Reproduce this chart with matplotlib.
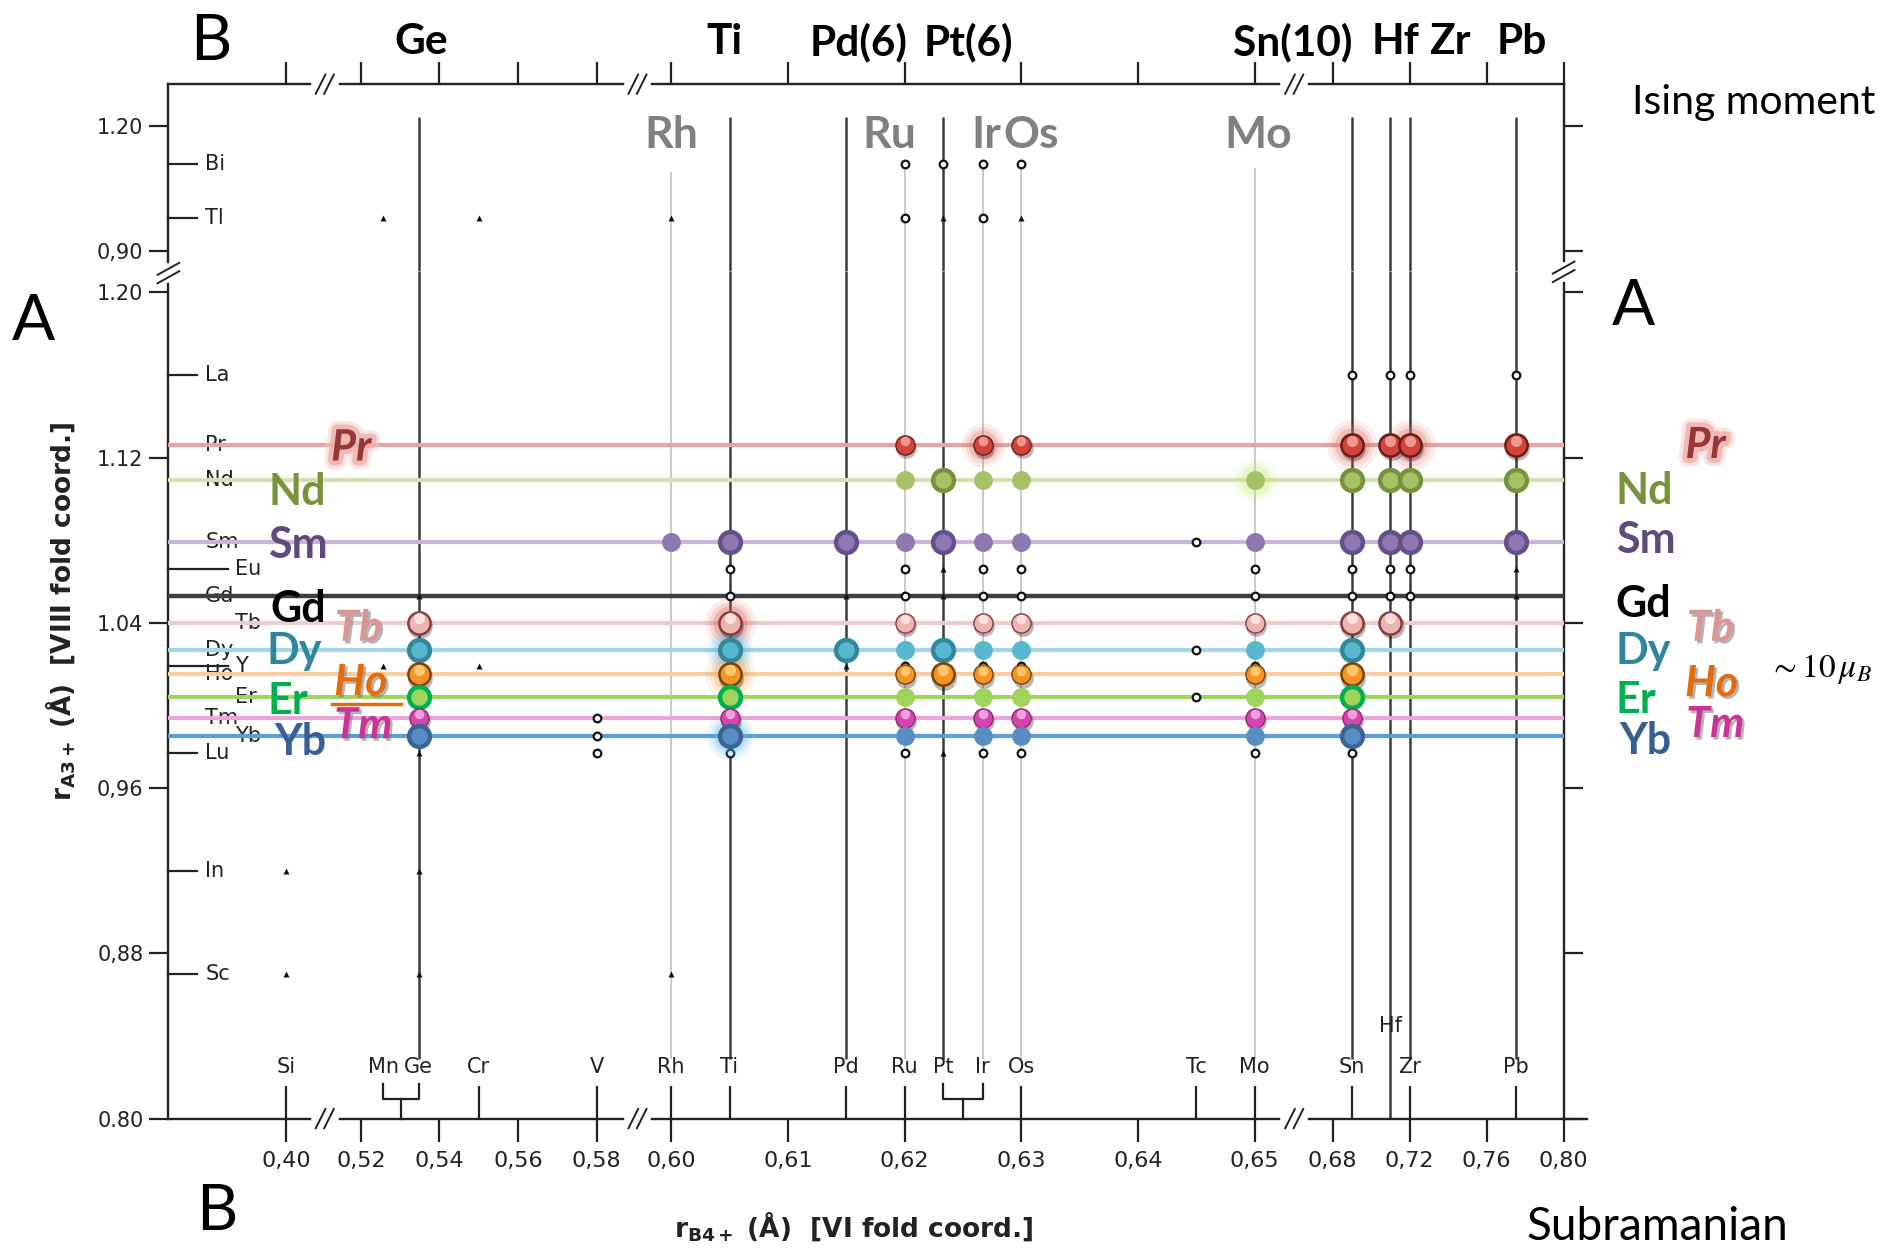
import numpy as np
import matplotlib
matplotlib.use("Agg")
import matplotlib.pyplot as plt
from matplotlib import transforms as mtransforms
from matplotlib import patheffects as pe
from matplotlib.lines import Line2D

plt.rcParams['font.family'] = ['DejaVu Sans']
plt.rcParams['mathtext.fontset'] = 'dejavusans'

# ---------------- data ----------------
A_LABELS = ["La", "Pr", "Nd", "Sm", "Eu", "Gd", "Tb", "Dy", "Y", "Ho", "Er", "Tm", "Yb", "Lu", "In", "Sc"]
A_RADII = [1.160, 1.126, 1.109, 1.079, 1.066, 1.053, 1.040, 1.027, 1.019, 1.015, 1.004, 0.994, 0.985, 0.977, 0.920, 0.870]
A_LONG = ["Eu", "Tb", "Y", "Er", "Yb"]
TOP_A_LABELS = ["Bi", "Tl"]
TOP_A_RADII = [1.11, 0.98]

B_LABELS = ["Si", "Mn", "Ge", "Cr", "V", "Rh", "Ti", "Pd", "Ru", "Pt", "Ir", "Os", "Tc", "Mo", "Sn", "Hf", "Zr", "Pb"]
B_RADII = [0.400, 0.5257, 0.5347, 0.550, 0.580, 0.600, 0.605, 0.615, 0.620, 0.6233, 0.6267, 0.630, 0.645, 0.650,
           0.690, 0.710, 0.720, 0.775]
B_TICKED = ["Si", "Cr", "V", "Rh", "Ti", "Pd", "Ru", "Os", "Tc", "Mo", "Sn", "Zr", "Pb"]
B_BRACKETS = [("Mn", "Ge"), ("Pt", "Ir")]

X_TICKS = [0.40, 0.52, 0.54, 0.56, 0.58, 0.60, 0.61, 0.62, 0.63, 0.64, 0.65, 0.68, 0.72, 0.76, 0.80]
X_TICKLABELS = ["0,40", "0,52", "0,54", "0,56", "0,58", "0,60", "0,61", "0,62", "0,63", "0,64", "0,65",
                "0,68", "0,72", "0,76", "0,80"]
Y_TICKS = [1.20, 1.12, 1.04, 0.96, 0.88, 0.80]
Y_TICKLABELS = ["1.20", "1.12", "1.04", "0,96", "0,88", "0.80"]
TOP_Y_TICKS = [1.20, 0.90]
TOP_Y_TICKLABELS = ["1.20", "0,90"]

# broken r_B axis: segment end radii and their place along the axis
SEG_R = [0.37, 0.40, 0.52, 0.58, 0.60, 0.65, 0.68, 0.80, 0.83]
SEG_POS = [140, 238, 300, 496, 558, 1043, 1108, 1300, 1350]

DARK_COLS = ["Ge", "Ti", "Pd", "Pt", "Sn", "Hf", "Zr", "Pb"]
LIGHT_COLS = ["Rh", "Ru", "Ir", "Os", "Mo"]

# magnetic rare-earth rows: columns with a coloured dot and the dot style
# p = plain, r = ringed / large, g = glow
PR_COLS = ["Ru", "Ir", "Os", "Sn", "Hf", "Zr", "Pb"]
PR_STY = ["p", "pg", "p", "rg", "r", "rg", "r"]
ND_COLS = ["Ru", "Pt", "Ir", "Os", "Mo", "Sn", "Hf", "Zr", "Pb"]
ND_STY = ["p", "r", "p", "p", "pg", "r", "r", "r", "r"]
SM_COLS = ["Rh", "Ti", "Pd", "Ru", "Pt", "Ir", "Os", "Mo", "Sn", "Hf", "Zr", "Pb"]
SM_STY = ["p", "r", "r", "p", "r", "p", "p", "p", "r", "r", "r", "r"]
TB_COLS = ["Ge", "Ti", "Ru", "Ir", "Os", "Mo", "Sn", "Hf"]
TB_STY = ["r", "rg", "p", "p", "p", "p", "r", "r"]
DY_COLS = ["Ge", "Ti", "Pd", "Ru", "Pt", "Ir", "Os", "Mo", "Sn"]
DY_STY = ["r", "rg", "r", "p", "r", "p", "p", "p", "r"]
HO_COLS = ["Ge", "Ti", "Ru", "Pt", "Ir", "Os", "Mo", "Sn"]
HO_STY = ["r", "rg", "p", "r", "p", "p", "p", "r"]
ER_COLS = ["Ge", "Ti", "Ru", "Ir", "Os", "Mo", "Sn"]
ER_STY = ["r", "r", "p", "p", "p", "p", "r"]
TM_COLS = ["Ge", "Ti", "Ru", "Ir", "Os", "Mo", "Sn"]
TM_STY = ["p", "p", "p", "p", "p", "p", "p"]
YB_COLS = ["Ge", "Ti", "Ru", "Ir", "Os", "Mo", "Sn"]
YB_STY = ["r", "rg", "p", "p", "p", "p", "r"]

ROWS = [("Pr", PR_COLS, PR_STY), ("Nd", ND_COLS, ND_STY), ("Sm", SM_COLS, SM_STY), ("Tb", TB_COLS, TB_STY),
        ("Dy", DY_COLS, DY_STY), ("Ho", HO_COLS, HO_STY), ("Er", ER_COLS, ER_STY), ("Tm", TM_COLS, TM_STY),
        ("Yb", YB_COLS, YB_STY)]
LINE_ROWS = ["Pr", "Nd", "Sm", "Gd", "Tb", "Dy", "Ho", "Er", "Tm", "Yb"]

# small symbols of the original scanned diagram
TRI_MARKS = [("Tl", "Mn"), ("Tl", "Cr"), ("Tl", "Rh"), ("Tl", "Pt"), ("Tl", "Os"),
             ("Eu", "Pt"), ("Eu", "Pb"), ("Gd", "Ge"), ("Gd", "Pd"), ("Gd", "Pt"), ("Gd", "Pb"),
             ("Y", "Mn"), ("Y", "Cr"), ("Y", "Pd"), ("Lu", "Ge"), ("Lu", "Pt"),
             ("In", "Si"), ("In", "Ge"), ("Sc", "Si"), ("Sc", "Ge"), ("Sc", "Rh")]
CIRC_MARKS = [("Bi", "Ru"), ("Bi", "Pt"), ("Bi", "Ir"), ("Bi", "Os"), ("Tl", "Ru"), ("Tl", "Ir"),
              ("La", "Sn"), ("La", "Hf"), ("La", "Zr"), ("La", "Pb"),
              ("Eu", "Ti"), ("Eu", "Ru"), ("Eu", "Ir"), ("Eu", "Os"), ("Eu", "Mo"), ("Eu", "Sn"), ("Eu", "Hf"),
              ("Eu", "Zr"),
              ("Gd", "Ti"), ("Gd", "Ru"), ("Gd", "Ir"), ("Gd", "Os"), ("Gd", "Mo"), ("Gd", "Sn"), ("Gd", "Hf"),
              ("Gd", "Zr"),
              ("Sm", "Tc"), ("Dy", "Tc"), ("Er", "Tc"), ("Tm", "V"), ("Yb", "V"), ("Lu", "V"),
              ("Y", "Ru"), ("Y", "Ir"), ("Y", "Os"), ("Y", "Mo"),
              ("Lu", "Ti"), ("Lu", "Ru"), ("Lu", "Ir"), ("Lu", "Os"), ("Lu", "Mo"), ("Lu", "Sn")]

# ---------------- styles ----------------
EL_STYLE = {
    'Pr': dict(fill='#d2433a', edge='#6e1c17', hi='#f3a9a1', glow='#e06a60'),
    'Nd': dict(fill='#a7c266', edge='#76923b', hi=None, glow='#c8ec7a'),
    'Sm': dict(fill='#8d78b2', edge='#65518a', hi=None, glow='#b9a6dd'),
    'Tb': dict(fill='#eab5b3', edge='#8a3b38', hi='#fde8e6', glow='#d9544c'),
    'Dy': dict(fill='#56b7cf', edge='#328799', hi=None, glow='#5ab6f5'),
    'Ho': dict(fill='#f29526', edge='#7e4304', hi='#ffd27a', glow='#eea04a'),
    'Er': dict(fill='#9fd35e', edge='#00b050', hi=None, glow='#b7ea80'),
    'Tm': dict(fill='#d445ad', edge='#8e2a74', hi='#f7aee4', glow='#e07ac8'),
    'Yb': dict(fill='#588cc5', edge='#3a6591', hi=None, glow='#5ab2f5'),
}
LINE_COLORS = {'Pr': '#e3a6a4', 'Nd': '#d2e2ae', 'Sm': '#c8b6d8', 'Gd': '#3f3f3f', 'Tb': '#efcccc',
               'Dy': '#a3d6e4', 'Ho': '#fccb9e', 'Er': '#9fd45f', 'Tm': '#eaa6d6', 'Yb': '#5a9fdc'}
LABEL_COLORS = {'Pr': '#953735', 'Nd': '#77933c', 'Sm': '#604a7b', 'Gd': '#000000', 'Tb': '#d99694',
                'Dy': '#31859c', 'Ho': '#e46c0a', 'Er': '#00b050', 'Tm': '#cc3399', 'Yb': '#376092'}
ITALIC = ['Pr', 'Tb', 'Ho', 'Tm']
SCAN = '#222222'
OVER_FONT = ['Lato', 'DejaVu Sans']

a_r = dict(zip(A_LABELS + TOP_A_LABELS, A_RADII + TOP_A_RADII))
b_r = dict(zip(B_LABELS, B_RADII))

# ---------------- figure ----------------
W, H = 1886, 1255
fig = plt.figure(figsize=(W / 100, H / 100), dpi=100)
S = W / 1568.0


def fx(xd):
    return xd * S / W


def fy(yd):
    return 1 - yd * S / H


ax = fig.add_axes([fx(140), fy(930), fx(1300) - fx(140), fy(225) - fy(930)])
axt = fig.add_axes([fx(140), fy(225), fx(1300) - fx(140), fy(70) - fy(225)], sharex=ax)


def fwd(r):
    return np.interp(r, SEG_R, SEG_POS)


def inv(p):
    return np.interp(p, SEG_POS, SEG_R)


ax.set_xscale('function', functions=(fwd, inv))
ax.set_xlim(0.37, 0.80)
ax.set_ylim(0.80, 1.2105)
axt.set_ylim(0.8522, 1.3014)

for a in (ax, axt):
    for s in a.spines.values():
        s.set_linewidth(1.7)
        s.set_color(SCAN)
ax.spines['top'].set_visible(False)
axt.spines['bottom'].set_visible(False)

# x ticks
ax.xaxis.remove_overlapping_locs = False
ax.set_xticks(X_TICKS)
ax.set_xticklabels(X_TICKLABELS)
ax.set_xticks([b_r[b] for b in B_TICKED], minor=True)
ax.tick_params(axis='x', which='major', direction='out', length=16.5, width=1.6, color=SCAN,
               labelsize=16, labelcolor=SCAN, pad=7, top=False)
ax.tick_params(axis='x', which='minor', direction='in', length=24, width=1.6, color=SCAN, top=False)
axt.tick_params(axis='x', which='major', direction='out', length=16, width=1.6, color=SCAN,
                top=True, bottom=False, labelbottom=False, labeltop=False)
axt.tick_params(axis='x', which='minor', top=False, bottom=False)

# y ticks
ax.set_yticks(Y_TICKS)
ax.set_yticklabels(Y_TICKLABELS)
axt.set_yticks(TOP_Y_TICKS)
axt.set_yticklabels(TOP_Y_TICKLABELS)
for a in (ax, axt):
    a.tick_params(axis='y', which='major', direction='out', length=14, width=1.6, color=SCAN,
                  labelsize=15, labelcolor=SCAN, pad=4, right=True, labelright=False)
    a.tick_params(axis='y', which='minor', left=False, right=False)

# element ticks on the left axis
for a, labs in ((ax, A_LABELS), (axt, TOP_A_LABELS)):
    bl = mtransforms.blended_transform_factory(a.transAxes, a.transData)
    for lab in labs:
        r = a_r[lab]
        L = 0.043 if lab in A_LONG else 0.0208
        xt = 0.0475 if lab in A_LONG else 0.0265
        a.plot([0, L], [r, r], color=SCAN, lw=1.6, transform=bl, clip_on=False, zorder=2)
        a.text(xt, r, lab, transform=bl, ha='left', va='center', fontsize=15, color=SCAN, zorder=2)

# element labels and brackets on the r_B axis
blx = mtransforms.blended_transform_factory(ax.transData, ax.transAxes)
for lab in B_LABELS:
    off = 67 if lab == "Hf" else 37
    ax.annotate(lab, xy=(b_r[lab], 0), xycoords=blx, xytext=(0, off), textcoords='offset points',
                ha='center', va='center', fontsize=15, color=SCAN, zorder=2)
for b1, b2 in B_BRACKETS:
    r1, r2 = b_r[b1], b_r[b2]
    rc = inv((fwd(r1) + fwd(r2)) / 2)
    ax.plot([rc, rc], [0, 0.0236], color=SCAN, lw=1.6, transform=blx, clip_on=False)
    ax.plot([r1, r1, r2, r2], [0.0413, 0.0236, 0.0236, 0.0413], color=SCAN, lw=1.6, transform=blx,
            clip_on=False)
# axis extension to the right of the frame
ax.plot([1, 1.017], [0, 0], color=SCAN, lw=1.7, transform=ax.transAxes, clip_on=False)

# vertical B-site lines
for col in DARK_COLS + LIGHT_COLS:
    r = b_r[col]
    dark = col in DARK_COLS
    c = '#3c3c3c' if dark else '#c9c9c9'
    lw = 1.8 if dark else 1.4
    top = 1.223 if dark else (1.09 if col == "Rh" else 1.10)
    bot = 0.80 if col == "Hf" else 0.829
    axt.plot([r, r], [top, 0.8522], color=c, lw=lw, zorder=1, solid_capstyle='butt')
    ax.plot([r, r], [1.2105, bot], color=c, lw=lw, zorder=1, solid_capstyle='butt')

# horizontal rare-earth lines
for el in LINE_ROWS:
    ax.axhline(a_r[el], color=LINE_COLORS[el], lw=3.0 if el != 'Gd' else 3.2, zorder=3)

# scanned symbols
for A, B in TRI_MARKS:
    tgt = axt if A in TOP_A_LABELS else ax
    tgt.plot([b_r[B]], [a_r[A]], '^', ms=5, color='#111111', mec='none', zorder=4)
for A, B in CIRC_MARKS:
    tgt = axt if A in TOP_A_LABELS else ax
    tgt.plot([b_r[B]], [a_r[A]], 'o', ms=5.5, mfc='white', mec='#111111', mew=1.6, zorder=4)


def offs(a, dx, dy):
    return mtransforms.offset_copy(a.transData, fig=fig, x=dx, y=dy, units='points')


def draw_dot(a, xb, ya, el, sty):
    st = EL_STYLE[el]
    big = 'r' in sty
    sphere = st['hi'] is not None
    if sphere:
        ms = 16.0 if big else 13.8
        mew = 1.8 if big else 1.0
    else:
        ms = 15.0 if big else 13.6
        mew = 3.2 if big else 0.0
    if 'g' in sty:
        for sc, al in [(2.3, 0.10), (1.9, 0.15), (1.55, 0.25)]:
            a.plot([xb], [ya], 'o', ms=ms * sc, mfc=st['glow'], mec='none', alpha=al, zorder=5)
    if sphere:
        a.plot([xb], [ya], 'o', ms=ms + mew, mfc='black', mec='none', alpha=0.28,
               transform=offs(a, 1.0, -2.2), zorder=5.5)
    a.plot([xb], [ya], 'o', ms=ms, mfc=st['fill'], mec=st['edge'] if mew > 0 else 'none', mew=mew, zorder=6)
    if sphere:
        a.plot([xb], [ya], 'o', ms=ms * 0.5, mfc=st['hi'], mec='none', alpha=0.85,
               transform=offs(a, 0, ms * 0.2), zorder=7)


for el, cols, stys in ROWS:
    for col, sty in zip(cols, stys):
        draw_dot(ax, b_r[col], a_r[el], el, sty)


# ---------------- axis breaks ----------------
def fig_line(xs, ys, **kw):
    fig.add_artist(Line2D([fx(x) for x in xs], [fy(y) for y in ys], transform=fig.transFigure, **kw))


def hbreak(xd, yd):
    fig_line([xd - 9, xd + 9], [yd, yd], color='white', lw=4, zorder=20)
    for dx in (-3.5, 3.5):
        fig_line([xd + dx - 4, xd + dx + 4], [yd + 8, yd - 8], color=SCAN, lw=1.4, zorder=21)


def vbreak(xd, yd):
    fig_line([xd, xd], [yd - 6, yd + 6], color='white', lw=4, zorder=20)
    for dy in (-3.5, 3.5):
        fig_line([xd - 9, xd + 9], [yd + dy + 5, yd + dy - 5], color=SCAN, lw=1.4, zorder=21)


for xb in (270, 530, 1076):
    hbreak(xb, 930)
    hbreak(xb, 70)
vbreak(140, 227)
vbreak(1300, 226)

# ---------------- texts ----------------
fig.text(fx(50), fy(508), r'r$_{\mathbf{A3+}}$ (Å)  [VIII fold coord.]', rotation=90, ha='center',
         va='center', fontsize=19, fontweight='bold', color=SCAN)
fig.text(fx(710), fy(1020), r'r$_{\mathbf{B4+}}$ (Å)  [VI fold coord.]', ha='center', va='center',
         fontsize=19, fontweight='bold', color=SCAN)

for t, xd in zip(["Ge", "Ti", "Pd(6)", "Pt(6)", "Sn(10)", "Hf", "Zr", "Pb"],
                 [350, 602, 714, 805, 1075, 1160, 1205, 1265]):
    fig.text(fx(xd), fy(35), t, ha='center', va='center', fontsize=30.5, fontweight='bold',
             family=OVER_FONT, color='black')
for t, xd in zip(["Rh", "Ru", "Ir", "Os", "Mo"], [558, 739, 820, 857, 1046]):
    fig.text(fx(xd), fy(112), t, ha='center', va='center', fontsize=32, fontweight='bold',
             family=OVER_FONT, color='#808080')

for t, xd, yd in [("A", 28, 268), ("A", 1358, 255), ("B", 175, 35), ("B", 180, 1008)]:
    fig.text(fx(xd), fy(yd), t, ha='center', va='center', fontsize=46, family=OVER_FONT, color='black')
fig.text(fx(1458), fy(85), "Ising moment", ha='center', va='center', fontsize=29.5, family=OVER_FONT)
fig.text(fx(1378), fy(1020), "Subramanian", ha='center', va='center', fontsize=33, family=OVER_FONT)
fig.text(fx(1514), fy(556), r'$\sim 10\,\mu_B$', ha='center', va='center', fontsize=24,
         math_fontfamily='stix')

LEFT_POS = {'Pr': (292, 372), 'Nd': (247, 409), 'Sm': (248, 453), 'Gd': (248, 506), 'Tb': (298, 522),
            'Dy': (245, 541), 'Ho': (300, 567), 'Er': (239, 583), 'Tm': (302, 603), 'Yb': (250, 617)}
RIGHT_POS = {'Pr': (1418, 370), 'Nd': (1367, 408), 'Sm': (1368, 449), 'Gd': (1366, 502), 'Tb': (1422, 522),
             'Dy': (1366, 541), 'Ho': (1423, 568), 'Er': (1360, 582), 'Tm': (1426, 602), 'Yb': (1368, 616)}
for el in LINE_ROWS:
    effects = None
    if el == 'Pr':
        effects = [pe.Stroke(linewidth=12, foreground='#f6cdc9', alpha=0.5),
                   pe.Stroke(linewidth=7, foreground='#eea9a3', alpha=0.7), pe.Normal()]
    elif el in ('Tb', 'Ho', 'Tm'):
        effects = [pe.SimplePatchShadow(offset=(1.8, -1.8), shadow_rgbFace='#777777', alpha=0.55), pe.Normal()]
    for pos in (LEFT_POS, RIGHT_POS):
        xd, yd = pos[el]
        fig.text(fx(xd), fy(yd), el, ha='center', va='center', fontsize=31, fontweight='bold',
                 style='italic' if el in ITALIC else 'normal', family=OVER_FONT,
                 color=LABEL_COLORS[el], path_effects=effects, zorder=25)
fig_line([276, 333], [585, 585], color='#e46c0a', lw=2.5, zorder=24)

fig.savefig("out.png", dpi=100)
